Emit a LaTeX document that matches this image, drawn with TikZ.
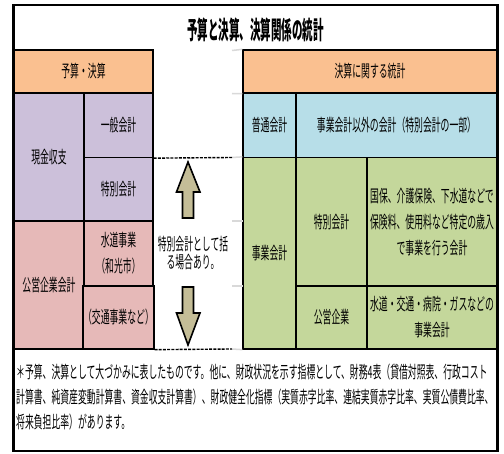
\documentclass[tikz,border=0pt]{standalone}
\usepackage{fontspec}
\newfontfamily\jp[FakeStretch=0.52]{Noto Sans CJK JP}
\newfontfamily\jpt[FakeStretch=0.42]{Noto Sans CJK JP}
\definecolor{hdr}{HTML}{FAC090}
\definecolor{purp}{HTML}{CCC0DA}
\definecolor{pink}{HTML}{E6B9B8}
\definecolor{lblue}{HTML}{B7DEE8}
\definecolor{lgreen}{HTML}{C4D79B}
\definecolor{tan}{HTML}{C4BD97}
\definecolor{gridg}{HTML}{D9D9D9}
\begin{document}
\begin{tikzpicture}[x=1pt,y=-1pt,
  cell/.style={draw=black, line width=1.3pt, inner sep=0pt, align=center,
    font=\jp\fontsize{17}{26}\selectfont},
  arr/.style={draw=black, line width=1.6pt, fill=tan, line join=miter},
  gline/.style={draw=gridg, line width=1.5pt},
  dline/.style={draw=black, line width=1.4pt, dash pattern=on 3pt off 1.2pt}]
\useasboundingbox (0,0) rectangle (504,454);
\fill[white] (0,0) rectangle (504,454);
% title
\node[font=\jpt\bfseries\fontsize{25}{27}\selectfont] (title) at (255.5,30) {予算と決算、決算関係の統計};
% left table
\node[cell, fill=hdr, minimum width=139, minimum height=43] (lh) at (83.5,71.5) {予算・決算};
\node[cell, fill=purp, minimum width=70, minimum height=128] (genkin) at (49,157) {現金収支};
\node[cell, fill=purp, minimum width=69, minimum height=64.5] (ippan) at (118.5,125.25) {一般会計};
\node[cell, fill=purp, minimum width=69, minimum height=63.5] (tokubetsu) at (118.5,189.25) {特別会計};
\node[cell, fill=pink, minimum width=70, minimum height=128] (koei) at (49,285) {公営企業会計};
\node[cell, fill=pink, minimum width=69, minimum height=65] (suido) at (118.5,253.5) {水道事業\\（和光市）};
\node[cell, fill=pink, minimum width=69, minimum height=63] (kotsu) at (118.5,317.5) {（交通事業など）};
% right table
\node[cell, fill=hdr, minimum width=254, minimum height=43] (rh) at (370,71.5) {決算に関する統計};
\node[cell, fill=lblue, minimum width=53, minimum height=64.5] (futsu) at (269.5,125.25) {普通会計};
\node[cell, fill=lblue, minimum width=201, minimum height=64.5] (igai) at (396.5,125.25) {事業会計以外の会計（特別会計の一部）};
\node[cell, fill=lgreen, minimum width=53, minimum height=191.5] (jigyo) at (269.5,253.25) {事業会計};
\node[cell, fill=lgreen, minimum width=71, minimum height=128.5] (toku2) at (331.5,221.75) {特別会計};
\node[cell, fill=lgreen, minimum width=130, minimum height=128.5] (desc1) at (432,221.75) {国保、介護保険、下水道などで\\保険料、使用料など特定の歳入\\で事業を行う会計};
\node[cell, fill=lgreen, minimum width=71, minimum height=63] (koei2) at (331.5,317.5) {公営企業};
\node[cell, fill=lgreen, minimum width=130, minimum height=63] (desc2) at (432,317.5) {水道・交通・病院・ガスなどの\\事業会計};
% gap lines
\coordinate (g0) at (232,50.5);
\coordinate (g1) at (232,93.5);
\coordinate (g2) at (232,157.5);
\coordinate (g3) at (232,221);
\coordinate (g4) at (232,286);
\coordinate (g5) at (232,349);
\draw[gline] (g0) -- (rh.north west);
\draw[gline] (g1) -- (rh.south west);
\draw[gline] (g2) -- (jigyo.north west);
\draw[gline] (g3) -- ++(11,0);
\draw[gline] (g4) -- ++(11,0);
\draw[gline] (g5) -- (jigyo.south west);
\draw[dline] (ippan.south east) -- (g2);
\draw[dline] (kotsu.south east) -- (g5);
% arrows
\draw[arr] (188,162) -- (200,192) -- (193.5,192) -- (193.5,218) -- (182.5,218) -- (182.5,192) -- (176.5,192) -- cycle;
\draw[arr] (188,345) -- (200,313) -- (193.5,313) -- (193.5,287) -- (182.5,287) -- (182.5,313) -- (176.5,313) -- cycle;
\node[align=center, font=\jp\fontsize{17}{18}\selectfont] (mid) at (193,253) {特別会計として括\\る場合あり。};
% footnote
\node[anchor=west, align=left, inner sep=0pt, font=\jp\fontsize{17}{25}\selectfont] (note) at (16,397) {＊予算、決算として大づかみに表したものです。他に、財政状況を示す指標として、財務4表（貸借対照表、行政コスト\\計算書、純資産変動計算書、資金収支計算書）、財政健全化指標（実質赤字比率、連結実質赤字比率、実質公債費比率、\\将来負担比率）があります。};
% outer frame
\draw[black, line width=2.6pt] (13.5,5) rectangle (497.5,451);
\draw[black, line width=1.3pt] (14,50) -- (153,50);
\end{tikzpicture}
\end{document}
